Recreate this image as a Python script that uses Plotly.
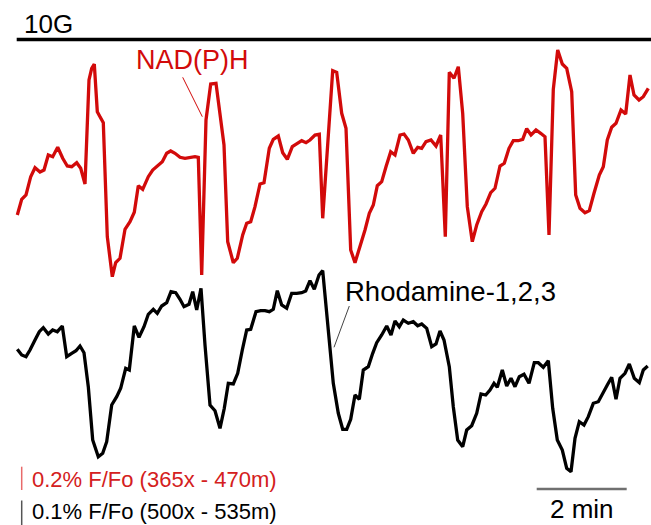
import plotly.graph_objects as go

# Readings from the picture (time axis in picture units, signal axis top-down)
nadph_t = [17.3, 21.7, 26, 30.7, 35, 40, 44, 48.3, 52.7, 57.7, 62.7, 67.3, 71.7, 76.7, 80.7, 85,
           89, 91.7, 94.3, 97.3, 100, 103.3, 107.3, 112.3, 115.7, 120, 125, 130, 134.3, 138.3,
           142.7, 148.3, 152.7, 157.3, 162.3, 166.7, 170.7, 175, 180, 185, 190.7, 195, 198.3,
           201.7, 206, 210.7, 216, 220, 224, 227.7, 233.3, 237.3, 242.7, 246.7, 250.7, 255, 260,
           264, 269.3, 273.3, 278.3, 282.7, 287.3, 292.3, 297.3, 301.7, 306, 310, 315, 319.3,
           322.7, 332.7, 336.7, 341.7, 346, 350.7, 355, 360, 365, 369.3, 373.3, 377.3, 381.7,
           386, 390.7, 395, 400, 404, 408.3, 413.3, 417.7, 421.7, 426, 431, 436, 440.7, 445.3,
           449.3, 454, 458.3, 462.7, 467.3, 472.3, 476.7, 481.7, 486, 490.7, 495, 500, 504.3,
           509, 513.3, 518.3, 522.7, 526.7, 531, 536, 540.7, 545, 549, 553.3, 557.7, 562.3,
           566.7, 571.7, 575.7, 580, 585, 589.3, 594, 599.3, 603.3, 607.3, 611.7, 616, 621,
           625.7, 630, 634, 639, 643.3, 648.3]
nadph_v = [215, 199.3, 195, 176.7, 167.7, 172, 170, 155, 156.7, 147.3, 158.3, 166, 166.7, 162.7,
           168.3, 184, 80, 68.3, 64, 111.7, 116.7, 122.7, 236.7, 276.7, 262.7, 258.3, 229.3,
           221.7, 212.3, 185.7, 189.3, 176.7, 170, 166, 161.7, 153.3, 151, 153.3, 157.3, 158.3,
           157.7, 156.7, 157.3, 275, 120, 84, 83.3, 113.3, 145, 241.7, 262.7, 258.3, 235, 223.3,
           221.7, 206.7, 184, 182.7, 148.3, 139.3, 136, 152.7, 159.3, 146.7, 144, 140.7, 142.7,
           140, 135, 134.3, 218.3, 70.7, 72.3, 113.3, 128.3, 250, 262.7, 246.7, 230, 213.3, 205,
           185.7, 181.7, 166.7, 151.7, 155, 135, 134, 140, 153.3, 147.3, 148.3, 141.7, 140, 146,
           135, 236.7, 72.3, 78.3, 66.7, 113.3, 206.7, 241.7, 225, 211.7, 204, 192.7, 188.3, 166,
           163.3, 148.3, 140.7, 140.7, 139.3, 128.7, 135, 130, 133.3, 136.7, 235, 89.3, 50, 64,
           68.3, 91.7, 195, 208.3, 212.7, 210.7, 193.3, 175, 166.7, 140, 127.3, 123.3, 110, 114,
           75, 95, 100, 96.7, 88.3]

rhod_t = [17.3, 21.7, 26, 30, 35, 39.3, 43.3, 48.3, 52.7, 57.3, 62.3, 66.7, 71.7, 76, 80, 84,
          88.3, 92.7, 98.3, 102.7, 106.7, 111.7, 116.7, 120.7, 125.7, 129.3, 134.3, 139, 144,
          148.3, 153.3, 157.3, 161.7, 166.7, 171, 175.7, 180, 184, 189, 192.7, 196.7, 201, 205,
          210, 215, 220, 224.3, 228.3, 233.3, 237.7, 242.3, 246.7, 250.7, 256, 260.7, 265,
          269.3, 273.3, 277.3, 281.7, 286.7, 291.7, 296.7, 301.7, 305.7, 310, 314.3, 319, 322.7,
          333.3, 338.3, 342.7, 346.7, 350.7, 355, 359.3, 363.3, 368.3, 372.7, 376.7, 381.7,
          386.7, 391, 395, 399.3, 403.3, 408.3, 413.3, 417.7, 421.7, 426.7, 431.7, 436, 440, 444,
          449.3, 453.3, 457.7, 462.7, 466.7, 471.7, 476.7, 481, 485.7, 490, 494, 497.3, 502.3,
          506.7, 511, 515, 519.3, 524, 529, 534.3, 538.3, 543.3, 548.3, 552.7, 557.3, 562.3,
          566.7, 571, 575, 579.3, 584, 588.3, 593.3, 598.3, 602.7, 607.3, 611.7, 616, 620, 625,
          629.3, 634.3, 639.3, 643.3, 647.7]
rhod_v = [349.3, 355, 356.7, 350, 340, 331.7, 327.7, 334, 330, 331.7, 326, 356.7, 353.3, 350.7,
          346, 352.7, 386.7, 440, 456.7, 453.3, 441.7, 405, 396.7, 388.3, 368.3, 370, 326, 337.3,
          326.7, 314.3, 309.3, 313.3, 306, 302.7, 291.7, 292.7, 299.3, 306.7, 304.3, 291.7, 310,
          288.3, 345, 405, 410.7, 428.3, 408.3, 383.3, 384, 373.3, 350, 330, 329.3, 311.7, 310.7,
          310.7, 311.7, 309.3, 290.7, 305, 308.3, 293.3, 293.3, 292.7, 291, 280.7, 289.3, 275,
          270.7, 383.3, 413.3, 429.3, 429.3, 419.3, 395, 399.3, 370, 366.7, 353.3, 342.7, 335,
          326, 335, 321, 326.7, 320, 323.3, 321.7, 325.7, 324, 328.3, 346.7, 344, 331, 340,
          366.7, 406.7, 440, 446.7, 430, 425.7, 413.3, 394, 395, 390, 383.3, 387.3, 370, 386,
          378.3, 386.7, 376.7, 374.3, 383.3, 362.7, 362.7, 367.3, 360.7, 408.3, 440, 450, 468.3,
          471.7, 438.3, 421.7, 425, 416.7, 403.3, 401.7, 392.7, 385, 377.3, 399.3, 378.3, 373.3,
          364, 378.3, 382.7, 370, 366]

label_top = "10G"
label_nadph = "NAD(P)H"
label_rhod = "Rhodamine-1,2,3"
legend_red = "0.2% F/Fo (365x - 470m)"
legend_black = "0.1% F/Fo (500x - 535m)"
scale_label = "2 min"

FONT = "Liberation Sans, Arial, sans-serif"
RED = "#d20a0a"

fig = go.Figure()
fig.add_trace(go.Scatter(x=nadph_t, y=nadph_v, mode="lines",
                         line=dict(color=RED, width=3.3), hoverinfo="skip"))
fig.add_trace(go.Scatter(x=rhod_t, y=rhod_v, mode="lines",
                         line=dict(color="#000000", width=3.3), hoverinfo="skip"))

shapes = [
    dict(type="line", x0=16.7, x1=651, y0=39.5, y1=39.5, line=dict(color="black", width=3.5)),
    dict(type="line", x0=536.7, x1=626.7, y0=489, y1=489, line=dict(color="#707070", width=2.5)),
    dict(type="line", x0=21.7, x1=21.7, y0=466.7, y1=490, line=dict(color="#e86a6a", width=1.5)),
    dict(type="line", x0=21.7, x1=21.7, y0=500.5, y1=525, line=dict(color="#555555", width=1.5)),
    dict(type="line", x0=182.7, x1=202.3, y0=77.3, y1=116.7, line=dict(color=RED, width=1)),
    dict(type="line", x0=349.3, x1=334, y0=306, y1=347.3, line=dict(color="#444444", width=1)),
]
for s in shapes:
    s.update(xref="x", yref="y", layer="above")

annotations = [
    dict(x=22.2, y=24, text=label_top, xanchor="left", font=dict(size=26, color="black")),
    dict(x=192.5, y=60, text=label_nadph, xanchor="center", font=dict(size=27, color=RED)),
    dict(x=450, y=291, text=label_rhod, xanchor="center", font=dict(size=27.5, color="black")),
    dict(x=30.2, y=479, text=legend_red, xanchor="left", font=dict(size=22, color="#d42020")),
    dict(x=30.2, y=511, text=legend_black, xanchor="left", font=dict(size=22, color="black")),
    dict(x=581.7, y=509, text=scale_label, xanchor="center", font=dict(size=26, color="black")),
]
for a in annotations:
    a.update(xref="x", yref="y", yanchor="middle", showarrow=False)
    a["font"]["family"] = FONT

fig.update_layout(
    width=651, height=525, autosize=False,
    margin=dict(l=0, r=0, t=0, b=0, pad=0),
    paper_bgcolor="white", plot_bgcolor="white",
    showlegend=False,
    xaxis=dict(range=[0, 651], visible=False, fixedrange=True),
    yaxis=dict(range=[525, 0], visible=False, fixedrange=True),
    shapes=shapes, annotations=annotations,
    font=dict(family=FONT),
)

fig.write_html("out.html", config={"displayModeBar": False, "staticPlot": True},
               post_script="document.body.style.margin='0';document.body.style.overflow='hidden';")
